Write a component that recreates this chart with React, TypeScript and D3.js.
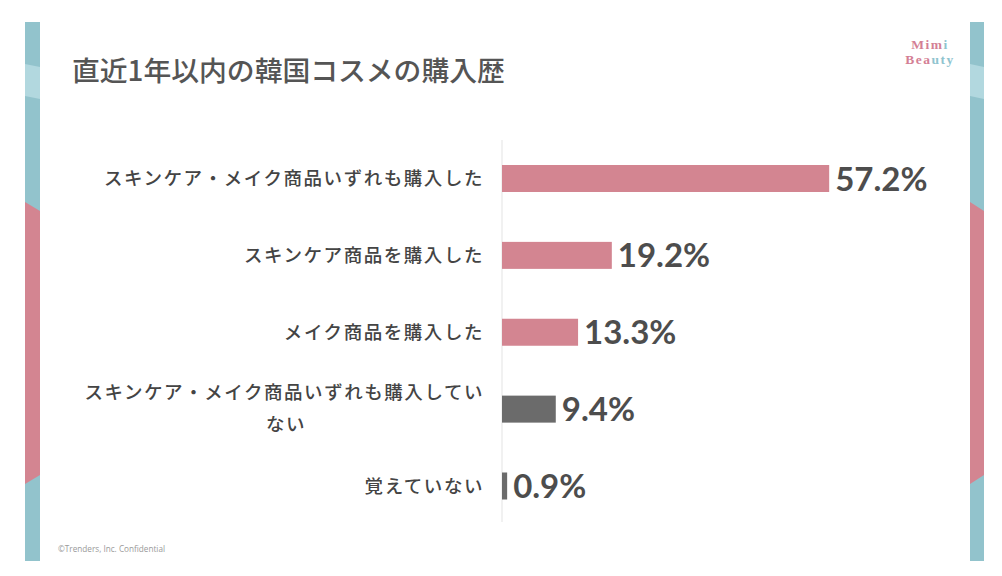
import React from "react";
import * as d3 from "d3";

const title = "直近1年以内の韓国コスメの購入歴";
const categories = [
  ["スキンケア・メイク商品いずれも購入した"],
  ["スキンケア商品を購入した"],
  ["メイク商品を購入した"],
  ["スキンケア・メイク商品いずれも購入してい", "ない"],
  ["覚えていない"],
];
const values = [57.2, 19.2, 13.3, 9.4, 0.9];
const barColors = ["#d38591", "#d38591", "#d38591", "#6b6b6b", "#6b6b6b"];
const footer = "©Trenders, Inc.  Confidential";

const W = 1002;
const H = 576;

export default function App() {
  const x = d3.scaleLinear().domain([0, 100]).range([502, 502 + 572]);
  const idx = categories.map((_, i) => String(i));
  const y = d3.scalePoint().domain(idx).range([178.5, 486]);
  const barH = 27;
  const teal = "#92c3cc";
  const tealLight = "#b2d8df";
  const pink = "#d38591";

  const stripe = (x0: number, x1: number) => (
    <g>
      <rect x={x0} y={22} width={x1 - x0} height={539} fill={teal} />
      <polygon points={`${x0},64 ${x1},67 ${x1},99 ${x0},96`} fill={tealLight} />
      <polygon points={`${x0},202 ${x1},211 ${x1},475 ${x0},484`} fill={pink} />
    </g>
  );

  const labelFont = {
    fontFamily: "'Noto Sans CJK JP'",
    fontWeight: 500,
    fontSize: 18.5,
    letterSpacing: 1.55,
    fill: "#444",
  } as const;

  return (
    <svg width={W} height={H} style={{ position: "absolute", left: 0, top: 0, background: "#fff" }}>
      <rect x={0} y={0} width={W} height={H} fill="#fff" />
      {stripe(25, 40)}
      {stripe(970, 984)}
      <text x={72} y={81} fontFamily="'Noto Sans CJK JP'" fontWeight={500} fontSize={27.8} fill="#555">
        {title}
      </text>
      <g fontFamily="'Liberation Serif', 'DejaVu Serif', serif" fontWeight="bold" fontSize={13.5} letterSpacing={1.5}>
        <text x={930} y={48.5} textAnchor="middle">
          <tspan fill="#d47f95">Mim</tspan>
          <tspan fill="#8fc4cf">i</tspan>
        </text>
        <text x={930} y={64} textAnchor="middle">
          <tspan fill="#d47f95">Bea</tspan>
          <tspan fill="#8fc4cf">uty</tspan>
        </text>
      </g>
      <line x1={x(0)} x2={x(0)} y1={140} y2={522} stroke="#ececec" strokeWidth={1.5} />
      {values.map((v, i) => {
        const cy = y(String(i))!;
        return (
          <g key={i}>
            <rect x={x(0)} y={cy - barH / 2} width={x(v) - x(0)} height={barH} fill={barColors[i]} />
            <text
              x={x(v) + 6}
              y={cy + 12}
              fontFamily="Lato"
              fontWeight="bold"
              fontSize={33}
              fill="#4d4d4d"
            >
              {v.toFixed(1) + "%"}
            </text>
          </g>
        );
      })}
      {categories.map((lines, i) => {
        const cy = y(String(i))!;
        if (lines.length === 1) {
          return (
            <text key={i} x={484} y={cy + 6.5} textAnchor="end" {...labelFont}>
              {lines[0]}
            </text>
          );
        }
        return (
          <g key={i} {...labelFont}>
            <text x={484} y={cy - 10} textAnchor="end">{lines[0]}</text>
            <text x={286} y={cy + 22} textAnchor="middle">{lines[1]}</text>
          </g>
        );
      })}
      <text x={58} y={552} fontFamily="'Open Sans'" fontSize={8.2} fill="#9a9a9a">
        {footer}
      </text>
    </svg>
  );
}
